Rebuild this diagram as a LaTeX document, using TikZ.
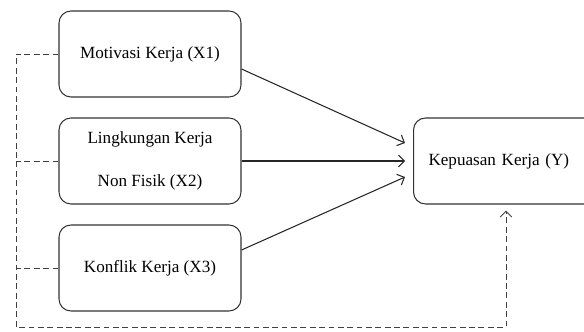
\documentclass[tikz,border=0pt]{standalone}
\usepackage{fontspec}
\setmainfont{Liberation Serif}
\usetikzlibrary{arrows.meta,calc}

\begin{document}
\begin{tikzpicture}[x=0.03cm,y=-0.03cm,
  varbox/.style={rectangle,rounded corners=0.36cm,draw=black!80,line width=0.9pt,minimum width=5.46cm,minimum height=2.58cm,align=center,font=\fontsize{14.6pt}{36.6pt}\selectfont},
  link/.style={draw=black!85,line width=0.9pt,-{Straight Barb[length=5pt,width=10pt]}},
  dashlink/.style={draw=black!75,line width=0.8pt,dash pattern=on 5pt off 3pt}]
\clip (0,0) rectangle (584,331);
\node [varbox] at (150,54) (x1) {Motivasi Kerja (X1)};
\node [varbox] at (150,161) (x2) {Lingkungan Kerja\\Non Fisik (X2)};
\node [varbox] at (150,268) (x3) {Konflik Kerja (X3)};
\node [varbox,anchor=west,align=left,text width=4.8cm,inner xsep=0.45cm] at (413,161) (y) {Kepuasan Kerja (Y)};
% corners of the dashed line
\coordinate (c1) at (16,327);
\coordinate (c2) at (506,327);
\draw [link] ($(x1.east)+(0,15)$) -- ($(y.west)+(-8,-18)$);
\draw [link] (x2.east) -- ($(y.west)+(-8,0)$);
\draw [link] ($(x3.east)+(0,-18)$) -- ($(y.west)+(-8,16)$);
\draw [dashlink,-{Straight Barb[length=5pt,width=10pt]}] (x1.west) -- (x1.west -| c1) -- (c1) -- (c2) -- ($(y.south -| c2)+(0,6)$);
\draw [dashlink] (x2.west) -- (x2.west -| c1);
\draw [dashlink] (x3.west) -- (x3.west -| c1);
\end{tikzpicture}
\end{document}
